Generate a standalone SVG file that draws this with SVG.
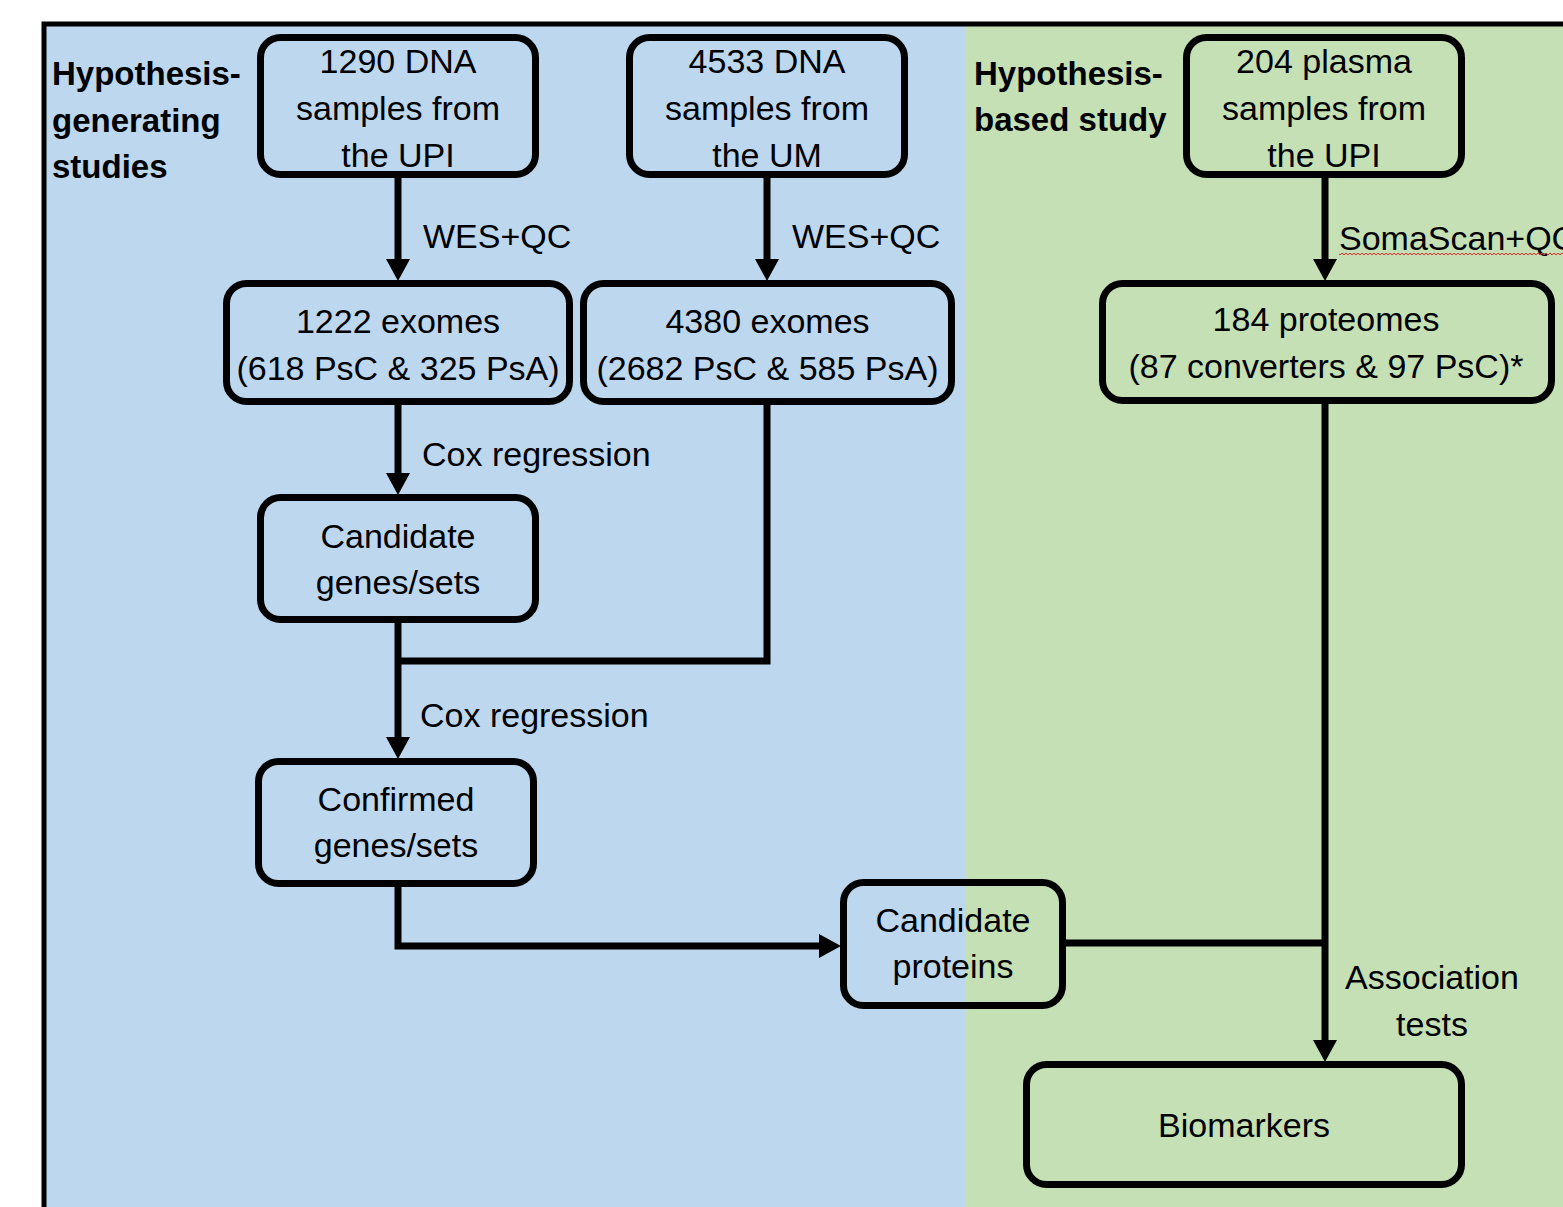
<svg xmlns="http://www.w3.org/2000/svg" width="1563" height="1207" viewBox="0 0 1563 1207">
<style>
.box{stroke:#000;stroke-width:7;}
.blue{fill:#BDD7EE;}
.green{fill:#C5E0B4;}
.t{font-family:"Liberation Sans",Arial,sans-serif;font-size:34px;fill:#000;}
.c{text-anchor:middle;}
.b{font-weight:bold;font-size:33px;}
.con{fill:none;stroke:#000;stroke-width:7;}
</style>
<defs>
<marker id="ah" markerUnits="userSpaceOnUse" markerWidth="24" markerHeight="24" refX="0" refY="12" orient="auto" viewBox="0 0 22 24">
<path d="M0,0 L22,12 L0,24 Z" fill="#000"/>
</marker>
<pattern id="sq" width="4" height="4" patternUnits="userSpaceOnUse">
<path d="M0,3 L2,1 L4,3" stroke="#e03030" fill="none" stroke-width="1"/>
</pattern>
</defs>
<rect x="0" y="0" width="1563" height="1207" fill="#fff"/>
<rect x="46" y="26" width="919" height="1181" class="blue"/>
<rect x="965" y="26" width="598" height="1181" class="green"/>
<rect x="44" y="24" width="1600" height="1300" fill="none" stroke="#000" stroke-width="5"/>

<g id="labels">
<text class="t b" x="52" y="85">Hypothesis-</text>
<text class="t b" x="52" y="132">generating</text>
<text class="t b" x="52" y="178">studies</text>
<text class="t b" x="974" y="85">Hypothesis-</text>
<text class="t b" x="974" y="131">based study</text>
<text class="t" x="423" y="248">WES+QC</text>
<text class="t" x="792" y="248">WES+QC</text>
<text class="t" x="1339" y="250">SomaScan+QC</text>
<rect x="1339" y="252" width="224" height="4" fill="url(#sq)"/>
<text class="t" x="422" y="466">Cox regression</text>
<text class="t" x="420" y="727">Cox regression</text>
<text class="t c" x="1432" y="989">Association</text>
<text class="t c" x="1432" y="1036">tests</text>
</g>

<g id="connectors">
<path class="con" d="M398,178 V259" marker-end="url(#ah)"/>
<path class="con" d="M767,178 V259" marker-end="url(#ah)"/>
<path class="con" d="M1325,178 V259" marker-end="url(#ah)"/>
<path class="con" d="M398,405 V473" marker-end="url(#ah)"/>
<path class="con" d="M767,405 V661 H395"/>
<path class="con" d="M398,620 V737" marker-end="url(#ah)"/>
<path class="con" d="M398,884 V946 H819" marker-end="url(#ah)"/>
<path class="con" d="M1325,404 V1040" marker-end="url(#ah)"/>
<path class="con" d="M1063,943 H1328"/>
</g>

<g id="n1">
<rect class="box blue" x="260.5" y="37.5" width="275" height="137" rx="20"/>
<text class="t c" x="398" y="73">1290 DNA</text>
<text class="t c" x="398" y="120">samples from</text>
<text class="t c" x="398" y="167">the UPI</text>
</g>
<g id="n2">
<rect class="box blue" x="629.5" y="37.5" width="275" height="137" rx="20"/>
<text class="t c" x="767" y="73">4533 DNA</text>
<text class="t c" x="767" y="120">samples from</text>
<text class="t c" x="767" y="167">the UM</text>
</g>
<g id="n3">
<rect class="box green" x="1186.5" y="37.5" width="275" height="137" rx="20"/>
<text class="t c" x="1324" y="73">204 plasma</text>
<text class="t c" x="1324" y="120">samples from</text>
<text class="t c" x="1324" y="167">the UPI</text>
</g>
<g id="n4">
<rect class="box blue" x="226.5" y="283.5" width="343" height="118" rx="20"/>
<text class="t c" x="398" y="333">1222 exomes</text>
<text class="t c" x="398" y="380">(618 PsC &amp; 325 PsA)</text>
</g>
<g id="n5">
<rect class="box blue" x="583.5" y="283.5" width="368" height="118" rx="20"/>
<text class="t c" x="767.5" y="333">4380 exomes</text>
<text class="t c" x="767.5" y="380">(2682 PsC &amp; 585 PsA)</text>
</g>
<g id="n6">
<rect class="box green" x="1102.5" y="283.5" width="449" height="117" rx="20"/>
<text class="t c" x="1326" y="331">184 proteomes</text>
<text class="t c" x="1326" y="378">(87 converters &amp; 97 PsC)*</text>
</g>
<g id="n7">
<rect class="box blue" x="260.5" y="497.5" width="275" height="122" rx="20"/>
<text class="t c" x="398" y="548">Candidate</text>
<text class="t c" x="398" y="594">genes/sets</text>
</g>
<g id="n8">
<rect class="box blue" x="258.5" y="761.5" width="275" height="122" rx="20"/>
<text class="t c" x="396" y="811">Confirmed</text>
<text class="t c" x="396" y="857">genes/sets</text>
</g>
<g id="n9">
<rect class="blue" x="843.5" y="882.5" width="219" height="123" rx="20"/>
<rect class="green" x="965" y="882.5" width="97.5" height="123"/>
<rect class="box" fill="none" x="843.5" y="882.5" width="219" height="123" rx="20"/>
<text class="t c" x="953" y="932">Candidate</text>
<text class="t c" x="953" y="978">proteins</text>
</g>
<g id="n10">
<rect class="box green" x="1026.5" y="1064.5" width="435" height="120" rx="20"/>
<text class="t c" x="1244" y="1137">Biomarkers</text>
</g>
</svg>
